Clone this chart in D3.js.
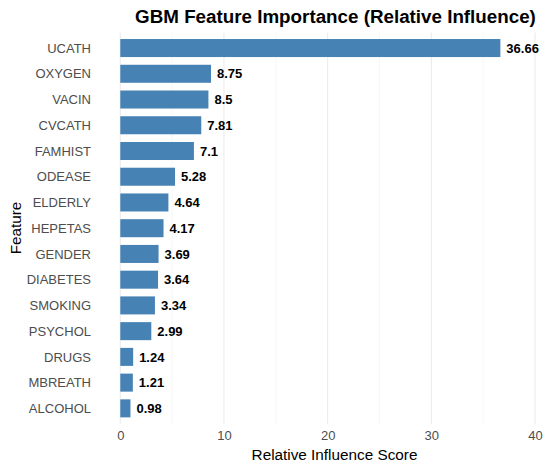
<!DOCTYPE html>
<html><head><meta charset="utf-8">
<script src="https://cdn.jsdelivr.net/npm/d3@7"></script>
<style>body{margin:0;background:#fff}svg{display:block}</style>
</head><body>
<svg id="chart" width="550" height="468"></svg>
<script>
const features = ["UCATH","OXYGEN","VACIN","CVCATH","FAMHIST","ODEASE","ELDERLY","HEPETAS","GENDER","DIABETES","SMOKING","PSYCHOL","DRUGS","MBREATH","ALCOHOL"];
const influence = [36.66,8.75,8.5,7.81,7.1,5.28,4.64,4.17,3.69,3.64,3.34,2.99,1.24,1.21,0.98];
const majorTicks = [0,10,20,30,40];
const minorTicks = [5,15,25,35];
const title = "GBM Feature Importance (Relative Influence)";
const xTitle = "Relative Influence Score";
const yTitle = "Feature";

const svg = d3.select("#chart");
const font = "'Liberation Sans', Arial, sans-serif";
const panelTop = 32.6, panelBottom = 423.8;
const x = d3.scaleLinear().domain([0,40]).range([120.3,535]);
// ggplot: bar width 0.7 of step, outer expansion 0.6 step
const step = (panelBottom - panelTop)/(features.length - 1 + 1.2);
const yc = d3.scalePoint().domain(features).range([panelTop + 0.6*step, panelBottom - 0.6*step]);
const barH = 0.7*step;

const data = features.map((f,i)=>({f, v: influence[i]}));

// minor grid
svg.append("g").selectAll("line").data(minorTicks).join("line")
  .attr("x1",d=>x(d)).attr("x2",d=>x(d)).attr("y1",panelTop).attr("y2",panelBottom)
  .attr("stroke","#f2f2f2").attr("stroke-width",0.6);
// major grid
svg.append("g").selectAll("line").data(majorTicks).join("line")
  .attr("x1",d=>x(d)).attr("x2",d=>x(d)).attr("y1",panelTop).attr("y2",panelBottom)
  .attr("stroke","#ebebeb").attr("stroke-width",1.1);

// bars
svg.append("g").selectAll("rect").data(data).join("rect")
  .attr("x",x(0)).attr("y",d=>yc(d.f)-barH/2)
  .attr("width",d=>x(d.v)-x(0)).attr("height",barH)
  .attr("fill","#4682b4");

// value labels
svg.append("g").selectAll("text").data(data).join("text")
  .attr("x",d=>x(d.v)+6).attr("y",d=>yc(d.f)).attr("dy","0.36em")
  .attr("font-family",font).attr("font-size",13).attr("font-weight","bold").attr("fill","#000")
  .text(d=>d.v);

// y axis labels
svg.append("g").selectAll("text").data(features).join("text")
  .attr("x",91).attr("y",d=>yc(d)).attr("dy","0.36em").attr("text-anchor","end")
  .attr("font-family",font).attr("font-size",13).attr("fill","#4d4d4d")
  .text(d=>d);

// x axis labels
const xAxis = d3.axisBottom(x).tickValues(majorTicks).tickSize(0).tickPadding(0);
const gx = svg.append("g").attr("transform",`translate(0,${431})`).call(xAxis);
gx.select(".domain").remove();
gx.selectAll("text").attr("font-family",font).attr("font-size",13).attr("fill","#4d4d4d").attr("dy","0.71em");

// titles
svg.append("text").attr("x",335.5).attr("y",23).attr("text-anchor","middle")
  .attr("font-family",font).attr("font-size",18.8).attr("font-weight","bold").attr("fill","#000").text(title);
svg.append("text").attr("x",334.5).attr("y",460).attr("text-anchor","middle")
  .attr("font-family",font).attr("font-size",15.3).attr("fill","#000").text(xTitle);
svg.append("text").attr("transform",`translate(21,228) rotate(-90)`).attr("text-anchor","middle")
  .attr("font-family",font).attr("font-size",15.3).attr("fill","#000").text(yTitle);
</script>
</body></html>
